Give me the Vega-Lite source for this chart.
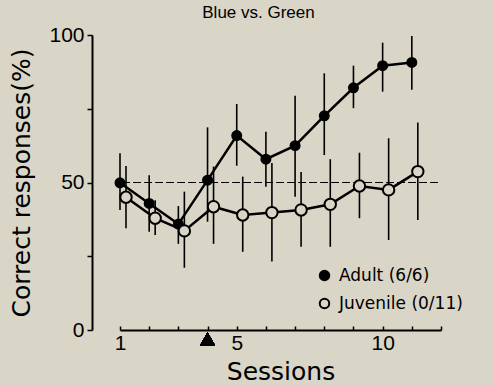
{
  "$schema": "https://vega.github.io/schema/vega-lite/v6.json",
  "width": 321,
  "height": 295,
  "autosize": {"type": "none"},
  "padding": {"left": 120, "top": 35, "right": 52, "bottom": 55},
  "background": "#d9d5c7",
  "config": {
    "view": {"stroke": null},
    "font": "DejaVu Sans",
    "axis": {"domainColor": "black", "tickColor": "black", "labelColor": "black", "titleColor": "black", "grid": false, "domainWidth": 2, "tickWidth": 1.5, "titleFontWeight": "normal"},
    "legend": {"labelColor": "black"}
  },
  "title": {"text": "Blue vs. Green", "fontSize": 17, "fontWeight": "normal", "font": "Liberation Sans", "color": "black", "anchor": "middle", "dx": -22, "offset": 2},
  "datasets": {
    "results": [
      {"session": 1, "group": "Adult (6/6)", "mean": 49.9, "lo": 40.7, "hi": 59.9},
      {"session": 2, "group": "Adult (6/6)", "mean": 42.9, "lo": 33.3, "hi": 52.5},
      {"session": 3, "group": "Adult (6/6)", "mean": 35.9, "lo": 29.2, "hi": 42},
      {"session": 4, "group": "Adult (6/6)", "mean": 50.8, "lo": 36.7, "hi": 68.7},
      {"session": 5, "group": "Adult (6/6)", "mean": 65.9, "lo": 55.7, "hi": 76.6},
      {"session": 6, "group": "Adult (6/6)", "mean": 57.9, "lo": 48.6, "hi": 67.2},
      {"session": 7, "group": "Adult (6/6)", "mean": 62.5, "lo": 45.2, "hi": 79.4},
      {"session": 8, "group": "Adult (6/6)", "mean": 72.6, "lo": 59.3, "hi": 87},
      {"session": 9, "group": "Adult (6/6)", "mean": 82.1, "lo": 75.2, "hi": 89.6},
      {"session": 10, "group": "Adult (6/6)", "mean": 89.6, "lo": 80.8, "hi": 97.4},
      {"session": 11, "group": "Adult (6/6)", "mean": 90.7, "lo": 81.4, "hi": 99.7},
      {"session": 1, "group": "Juvenile (0/11)", "mean": 45, "lo": 34.5, "hi": 55.6},
      {"session": 2, "group": "Juvenile (0/11)", "mean": 37.9, "lo": 32.2, "hi": 44},
      {"session": 3, "group": "Juvenile (0/11)", "mean": 33.6, "lo": 21.1, "hi": 46.9},
      {"session": 4, "group": "Juvenile (0/11)", "mean": 41.8, "lo": 29.2, "hi": 55.4},
      {"session": 5, "group": "Juvenile (0/11)", "mean": 39, "lo": 26.5, "hi": 52},
      {"session": 6, "group": "Juvenile (0/11)", "mean": 39.8, "lo": 23.2, "hi": 56.6},
      {"session": 7, "group": "Juvenile (0/11)", "mean": 40.7, "lo": 28.2, "hi": 53.6},
      {"session": 8, "group": "Juvenile (0/11)", "mean": 42.6, "lo": 28.2, "hi": 57.9},
      {"session": 9, "group": "Juvenile (0/11)", "mean": 48.8, "lo": 37.9, "hi": 60.1},
      {"session": 10, "group": "Juvenile (0/11)", "mean": 47.5, "lo": 30.5, "hi": 65},
      {"session": 11, "group": "Juvenile (0/11)", "mean": 53.7, "lo": 37.3, "hi": 70.3}
    ]
  },
  "data": {"name": "results"},
  "encoding": {
    "x": {"field": "session", "type": "quantitative",
      "scale": {"domain": [1, 12], "nice": false, "zero": false},
      "axis": {"title": "Sessions", "titleFontSize": 25, "titlePadding": 6, "values": [1,2,3,4,5,6,7,8,9,10,11,12], "labelExpr": "(datum.value == 1 || datum.value == 5 || datum.value == 10) ? datum.label : ''", "labelFontSize": 21, "labelFont": "Liberation Sans", "tickSize": -4, "labelPadding": 6, "labelFlush": false}},
    "y": {"field": "mean", "type": "quantitative",
      "scale": {"domain": [0, 100], "nice": false},
      "axis": {"title": "Correct responses(%)", "titleFontSize": 25, "offset": 28, "values": [0, 25, 50, 75, 100], "labelExpr": "(datum.value % 50 == 0) ? datum.label : ''", "labelFontSize": 21, "labelFont": "Liberation Sans", "tickSize": 5, "labelPadding": 3, "titlePadding": 14}}
  },
  "layer": [
    {
      "mark": {"type": "rule", "strokeDash": [7, 4], "strokeWidth": 1.2, "color": "black"},
      "encoding": {"x": {"datum": 1.1}, "x2": {"datum": 12}, "y": {"datum": 50}}
    },
    {
      "transform": [{"filter": "datum.group === 'Adult (6/6)'"}],
      "mark": {"type": "rule", "strokeWidth": 1.6, "color": "black"},
      "encoding": {"y": {"field": "lo", "type": "quantitative"}, "y2": {"field": "hi"}}
    },
    {
      "transform": [{"filter": "datum.group === 'Juvenile (0/11)'"}],
      "mark": {"type": "rule", "strokeWidth": 1.6, "color": "black", "xOffset": 6},
      "encoding": {"y": {"field": "lo", "type": "quantitative"}, "y2": {"field": "hi"}}
    },
    {
      "transform": [{"filter": "datum.group === 'Adult (6/6)'"}],
      "mark": {"type": "line", "strokeWidth": 2.5, "color": "black"}
    },
    {
      "transform": [{"filter": "datum.group === 'Juvenile (0/11)'"}],
      "mark": {"type": "line", "strokeWidth": 2.5, "color": "black", "xOffset": 6}
    },
    {
      "transform": [{"filter": "datum.group === 'Adult (6/6)'"}],
      "mark": {"type": "point", "shape": "circle", "size": 90, "stroke": "black", "strokeWidth": 1.5, "opacity": 1, "filled": false},
      "encoding": {"fill": {"field": "group", "type": "nominal",
        "scale": {"domain": ["Adult (6/6)", "Juvenile (0/11)"], "range": ["black", "#d9d5c7"]},
        "legend": {"title": null, "orient": "none", "legendX": 196, "legendY": 232, "labelFontSize": 17, "symbolSize": 90, "symbolStrokeColor": "black", "symbolStrokeWidth": 2, "rowPadding": 9, "labelOffset": 6, "symbolType": "circle"}}}
    },
    {
      "transform": [{"filter": "datum.group === 'Juvenile (0/11)'"}],
      "mark": {"type": "point", "shape": "circle", "size": 130, "stroke": "black", "strokeWidth": 2, "opacity": 1, "filled": false, "xOffset": 6},
      "encoding": {"fill": {"field": "group", "type": "nominal"}}
    },
    {
      "mark": {"type": "point", "shape": "triangle-up", "size": 220, "filled": true, "color": "black", "opacity": 1, "clip": false},
      "encoding": {"x": {"datum": 4}, "y": {"datum": -3.0}, "fill": {"value": "black"}}
    }
  ]
}
